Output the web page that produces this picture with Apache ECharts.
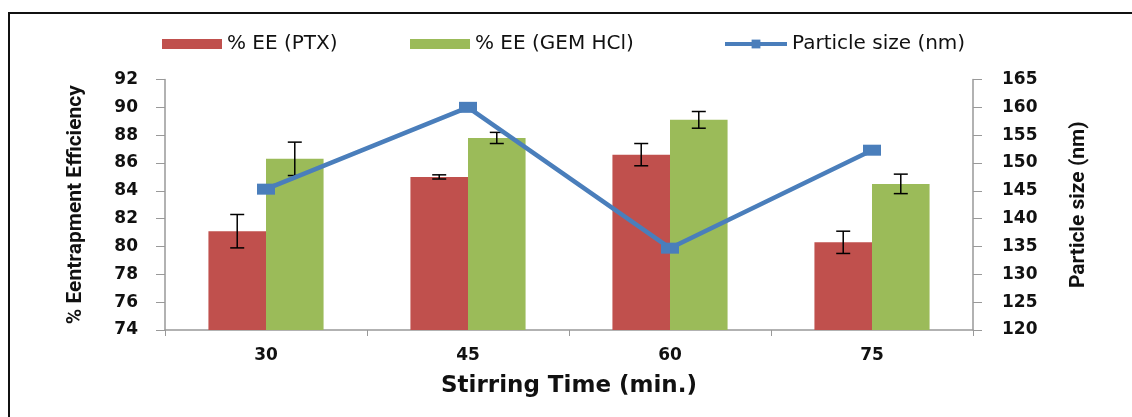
<!DOCTYPE html>
<html>
<head>
<meta charset="utf-8">
<script src="https://cdn.jsdelivr.net/npm/echarts@6/dist/echarts.min.js"></script>
<style>
html,body{margin:0;padding:0;background:#fff;}
#chart{width:1132px;height:417px;}
</style>
</head>
<body>
<div id="chart"></div>
<script>
const categories = ['30', '45', '60', '75'];
const eePTX = [81.1, 85.0, 86.6, 80.3];
const eePTXErr = [1.2, 0.15, 0.8, 0.8];
const eeGEM = [86.3, 87.8, 89.1, 84.5];
const eeGEMErr = [1.2, 0.4, 0.6, 0.7];
const particleSize = [145.3, 160.0, 134.7, 152.3];

const BAR_FRAC = 0.285;
const chart = echarts.init(document.getElementById('chart'));

function errorSeries(name, values, errs, side) {
  return {
    type: 'custom',
    name: name + ' err',
    yAxisIndex: 0,
    z: 5,
    silent: true,
    data: values.map((v, i) => [i, v - errs[i], v + errs[i]]),
    renderItem: function (params, api) {
      const i = api.value(0);
      const band = api.size([1, 0])[0];
      const off = side * band * BAR_FRAC / 2;
      const lo = api.coord([i, api.value(1)]);
      const hi = api.coord([i, api.value(2)]);
      const x = lo[0] + off;
      const cap = 7;
      const style = { stroke: '#000', lineWidth: 1.5 };
      return {
        type: 'group',
        children: [
          { type: 'line', shape: { x1: x, y1: lo[1], x2: x, y2: hi[1] }, style: style },
          { type: 'line', shape: { x1: x - cap, y1: lo[1], x2: x + cap, y2: lo[1] }, style: style },
          { type: 'line', shape: { x1: x - cap, y1: hi[1], x2: x + cap, y2: hi[1] }, style: style }
        ]
      };
    }
  };
}

const legendText = { fontFamily: 'DejaVu Sans', fontSize: 20, color: '#111' };
const titleFont = { fontFamily: 'Roboto', fontWeight: 'bold', fontSize: 21, color: '#111' };

chart.setOption({
  animation: false,
  backgroundColor: '#fff',
  graphic: [
    { type: 'line', shape: { x1: 8, y1: 13, x2: 1132, y2: 13 }, style: { stroke: '#111', lineWidth: 2 } },
    { type: 'line', shape: { x1: 9, y1: 12, x2: 9, y2: 417 }, style: { stroke: '#111', lineWidth: 2 } }
  ],
  legend: [
    { left: 157, top: 29, icon: 'rect', itemWidth: 60, itemHeight: 10, itemGap: 0, textStyle: legendText, data: ['% EE (PTX)'] },
    { left: 405, top: 29, icon: 'rect', itemWidth: 60, itemHeight: 10, itemGap: 0, textStyle: legendText, data: ['% EE (GEM HCl)'] },
    { left: 718, top: 29, itemWidth: 62, itemHeight: 11, itemGap: 0, textStyle: legendText,
      lineStyle: { width: 4 }, data: ['Particle size (nm)'] }
  ],
  grid: { left: 165, right: 159, top: 79.5, bottom: 87, containLabel: false },
  xAxis: {
    type: 'category',
    data: categories,
    name: 'Stirring Time (min.)',
    nameLocation: 'middle',
    nameGap: 45,
    nameTextStyle: { fontFamily: 'DejaVu Sans', fontWeight: 'bold', fontSize: 23, color: '#111' },
    axisLine: { lineStyle: { color: '#999', width: 1.5 } },
    axisTick: { show: true, length: 6, lineStyle: { color: '#999' } },
    axisLabel: { margin: 17, fontFamily: 'DejaVu Sans', fontWeight: 'bold', fontSize: 17, color: '#111' }
  },
  yAxis: [
    {
      type: 'value', min: 74, max: 92, interval: 2,
      name: '% Eentrapment Efficiency',
      nameLocation: 'middle', nameRotate: 90, nameGap: 79,
      nameTextStyle: titleFont,
      axisLine: { show: true, lineStyle: { color: '#999', width: 1.5 } },
      axisTick: { show: true, length: 9, lineStyle: { color: '#999' } },
      axisLabel: { margin: 27, fontFamily: 'DejaVu Sans', fontWeight: 'bold', fontSize: 17, color: '#111' },
      splitLine: { show: false }
    },
    {
      type: 'value', min: 120, max: 165, interval: 5,
      name: 'Particle size (nm)',
      nameLocation: 'middle', nameRotate: 90, nameGap: 95,
      nameTextStyle: titleFont,
      axisLine: { show: true, lineStyle: { color: '#999', width: 1.5 } },
      axisTick: { show: true, length: 9, lineStyle: { color: '#999' } },
      axisLabel: { margin: 29, fontFamily: 'DejaVu Sans', fontWeight: 'bold', fontSize: 17, color: '#111' },
      splitLine: { show: false }
    }
  ],
  series: [
    {
      name: '% EE (PTX)', type: 'bar', yAxisIndex: 0, data: eePTX,
      barWidth: (BAR_FRAC * 100) + '%', barGap: '0%',
      itemStyle: { color: '#C0504D' }, z: 2
    },
    {
      name: '% EE (GEM HCl)', type: 'bar', yAxisIndex: 0, data: eeGEM,
      barWidth: (BAR_FRAC * 100) + '%', barGap: '0%',
      itemStyle: { color: '#9BBB59' }, z: 2
    },
    errorSeries('% EE (PTX)', eePTX, eePTXErr, -1),
    errorSeries('% EE (GEM HCl)', eeGEM, eeGEMErr, 1),
    {
      name: 'Particle size (nm)', type: 'line', yAxisIndex: 1, data: particleSize,
      symbol: 'rect', symbolSize: [18, 11], z: 10,
      lineStyle: { color: '#4A7EBB', width: 4.5 },
      itemStyle: { color: '#4A7EBB' }
    }
  ]
});
</script>
</body>
</html>
